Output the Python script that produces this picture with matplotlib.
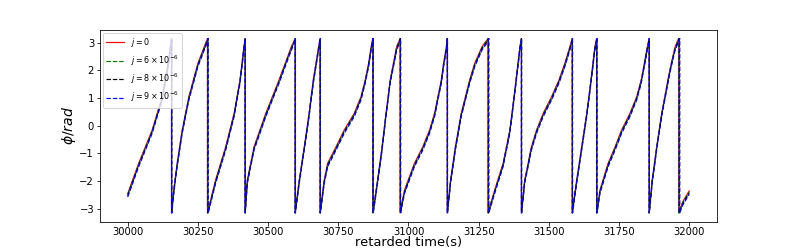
import numpy as np
import matplotlib
matplotlib.use("Agg")
import matplotlib.pyplot as plt

# phase of the j=0 signal (wrap points appear twice: +pi then -pi)
t_j0 = [
    30000, 30039, 30087, 30123, 30144, 30156,
    30156, 30164, 30176, 30194, 30218, 30250, 30284,
    30284, 30313, 30349, 30379, 30400, 30414, 30418,
    30418, 30426, 30450, 30492, 30539, 30583, 30596,
    30596, 30611, 30629, 30646, 30661, 30680, 30685,
    30685, 30700, 30712, 30742, 30771, 30807, 30831, 30846, 30858, 30867, 30873,
    30873, 30890, 30906, 30920, 30935, 30958, 30970,
    30970, 30986, 31021, 31051, 31075, 31093, 31105, 31117, 31125, 31135, 31138,
    31138, 31150, 31167, 31188, 31218, 31236, 31262, 31283,
    31283, 31307, 31337, 31361, 31376, 31390, 31397, 31402,
    31402, 31414, 31438, 31456, 31480, 31510, 31536, 31557, 31575, 31583,
    31583, 31599, 31617, 31635, 31650, 31664, 31670,
    31670, 31682, 31711, 31736, 31759, 31789, 31813, 31829, 31840, 31851, 31857,
    31857, 31868, 31884, 31902, 31924, 31936, 31950, 31962,
    31962, 31977, 32000,
]
phi_j0 = [
    -2.45, -1.36, -0.16, 1.05, 2.25, 3.14,
    -3.14, -2.32, -1.36, -0.16, 1.05, 2.25, 3.14,
    -3.14, -1.96, -0.76, 0.45, 1.65, 2.85, 3.14,
    -3.14, -1.96, -0.76, 0.45, 1.65, 2.85, 3.14,
    -3.14, -1.96, -0.76, 0.45, 1.65, 2.85, 3.14,
    -3.14, -1.96, -1.36, -0.76, -0.16, 0.45, 1.05, 1.65, 2.25, 2.85, 3.14,
    -3.14, -1.96, -0.76, 0.45, 1.65, 2.85, 3.14,
    -3.14, -2.32, -1.36, -0.76, -0.16, 0.45, 1.05, 1.65, 2.25, 2.85, 3.14,
    -3.14, -1.96, -0.76, 0.45, 1.65, 2.25, 2.85, 3.14,
    -3.14, -2.32, -1.36, -0.16, 1.05, 2.25, 2.85, 3.14,
    -3.14, -1.96, -0.76, -0.16, 0.45, 1.05, 1.65, 2.25, 2.85, 3.14,
    -3.14, -1.96, -0.76, 0.45, 1.65, 2.85, 3.14,
    -3.14, -2.32, -1.36, -0.76, -0.16, 0.45, 1.05, 1.65, 2.25, 2.85, 3.14,
    -3.14, -1.96, -0.76, 0.45, 1.65, 2.25, 2.85, 3.14,
    -3.14, -2.74, -2.35,
]

# phase lag (rad) of the other runs w.r.t. j=0
labels = [r"$j=0$", r"$j=6\times10^{-6}$", r"$j=8\times10^{-6}$", r"$j=9\times10^{-6}$"]
lags = [0.0, 0.03, 0.07, 0.12]
colors = ["r", "g", "k", "b"]
styles = ["-", "--", "--", "--"]


def wrapped_curve(t, phi, lag):
    """Shift the unwrapped phase by -lag and re-wrap it into [-pi, pi]."""
    t = np.asarray(t, float)
    p = np.unwrap(np.asarray(phi, float)) - lag
    k = np.floor((p + np.pi) / (2 * np.pi))
    xs, ys = [t[0]], [p[0] - 2 * np.pi * k[0]]
    for i in range(1, len(t)):
        if k[i] > k[i - 1]:
            c = np.pi + 2 * np.pi * k[i - 1]
            tc = t[i - 1] + (c - p[i - 1]) / (p[i] - p[i - 1]) * (t[i] - t[i - 1])
            xs += [tc, tc]
            ys += [np.pi, -np.pi]
        xs.append(t[i])
        ys.append(p[i] - 2 * np.pi * k[i])
    return xs, ys


# 72 dpi : fonts come out at the same pixel size as the reference
fig, ax = plt.subplots(figsize=(797 / 72, 249 / 72), dpi=72)

for lab, lag, col, ls in zip(labels, lags, colors, styles):
    if lag == 0:
        xs, ys = t_j0, phi_j0
    else:
        xs, ys = wrapped_curve(t_j0, phi_j0, lag)
    ax.plot(xs, ys, color=col, linestyle=ls, linewidth=1.2, label=lab)

ax.tick_params(pad=2)
ax.set_xlabel("retarded time(s)", fontsize=13, labelpad=-1)
ax.set_ylabel(r"$\phi/rad$", fontsize=14, labelpad=1)
ax.set_xticks([30000, 30250, 30500, 30750, 31000, 31250, 31500, 31750, 32000])
ax.set_yticks([-3, -2, -1, 0, 1, 2, 3])
ax.legend(loc="upper left", fontsize=8, handlelength=2.3, borderaxespad=0.4)

fig.savefig("out.png", dpi=72)
